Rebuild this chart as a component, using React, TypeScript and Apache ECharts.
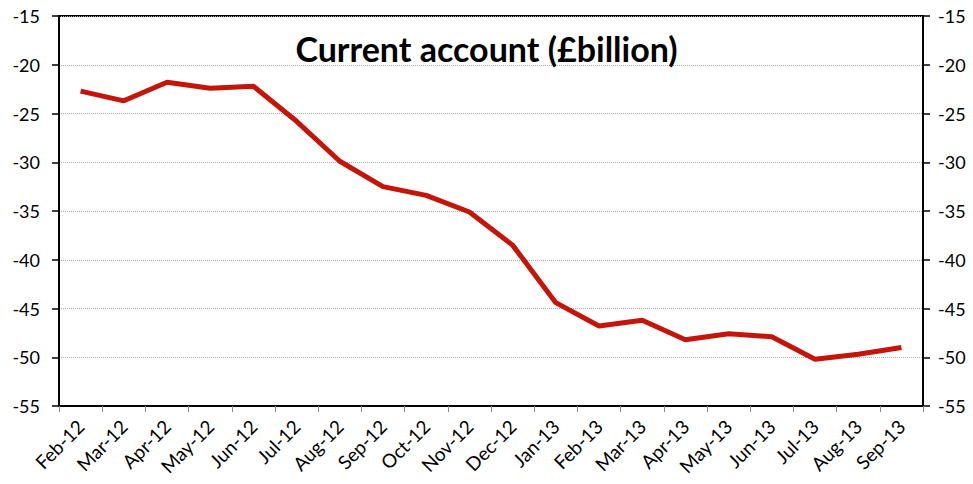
import React, { useEffect, useRef } from "react";
import * as echarts from "echarts";

const categories = [
  "Feb-12", "Mar-12", "Apr-12", "May-12", "Jun-12", "Jul-12", "Aug-12", "Sep-12", "Oct-12", "Nov-12",
  "Dec-12", "Jan-13", "Feb-13", "Mar-13", "Apr-13", "May-13", "Jun-13", "Jul-13", "Aug-13", "Sep-13",
];
const currentAccount = [
  -22.7, -23.7, -21.8, -22.4, -22.2, -25.8, -29.9, -32.5, -33.4, -35.1,
  -38.5, -44.4, -46.8, -46.2, -48.2, -47.6, -47.9, -50.2, -49.7, -49.0,
];
const titleText = "Current account (£billion)";
const yMin = -55;
const yMax = -15;
const yStep = 5;

const FONT = "Lato, 'Open Sans', sans-serif";

export default function App() {
  const ref = useRef<HTMLDivElement>(null);
  useEffect(() => {
    if (!ref.current) return;
    const chart = echarts.init(ref.current, undefined, { renderer: "svg" });
    const yCommon = {
      type: "value" as const,
      min: yMin,
      max: yMax,
      interval: yStep,
      axisLine: { show: true, lineStyle: { color: "#000", width: 2 } },
      axisTick: { show: true, length: 7, lineStyle: { color: "#000", width: 1.5 } },
    };
    chart.setOption({
      animation: false,
      backgroundColor: "#fff",
      title: {
        text: titleText,
        left: "center",
        top: 26,
        textStyle: { fontSize: 34, fontWeight: "bold", fontFamily: FONT, color: "#000" },
      },
      grid: {
        left: 59,
        right: 50,
        top: 16,
        bottom: 78,
        show: true,
        borderColor: "#000",
        borderWidth: 2,
        backgroundColor: "transparent",
      },
      xAxis: {
        type: "category",
        data: categories,
        boundaryGap: true,
        axisLine: { show: true, lineStyle: { color: "#000", width: 2 } },
        axisTick: { show: true, length: 6, alignWithLabel: false, lineStyle: { color: "#888", width: 1 } },
        axisLabel: { color: "#000", fontSize: 19, fontFamily: FONT, rotate: 45, margin: 17, interval: 0 },
        splitLine: { show: false },
      },
      yAxis: [
        {
          ...yCommon,
          position: "left",
          axisLabel: { color: "#000", fontSize: 18, fontFamily: FONT, margin: 19 },
          splitLine: { show: true, lineStyle: { color: "#aaa", type: "dotted", width: 1 } },
        },
        {
          ...yCommon,
          position: "right",
          axisLabel: { color: "#000", fontSize: 18, fontFamily: FONT, margin: 15 },
          splitLine: { show: false },
        },
      ],
      series: [
        {
          type: "line",
          data: currentAccount,
          yAxisIndex: 0,
          symbol: "none",
          lineStyle: { color: "#C41508", width: 5 },
          itemStyle: { color: "#C41508" },
        },
      ],
    });
    return () => chart.dispose();
  }, []);
  return <div ref={ref} style={{ width: 973, height: 484, position: "fixed", left: 0, top: 0 }} />;
}
